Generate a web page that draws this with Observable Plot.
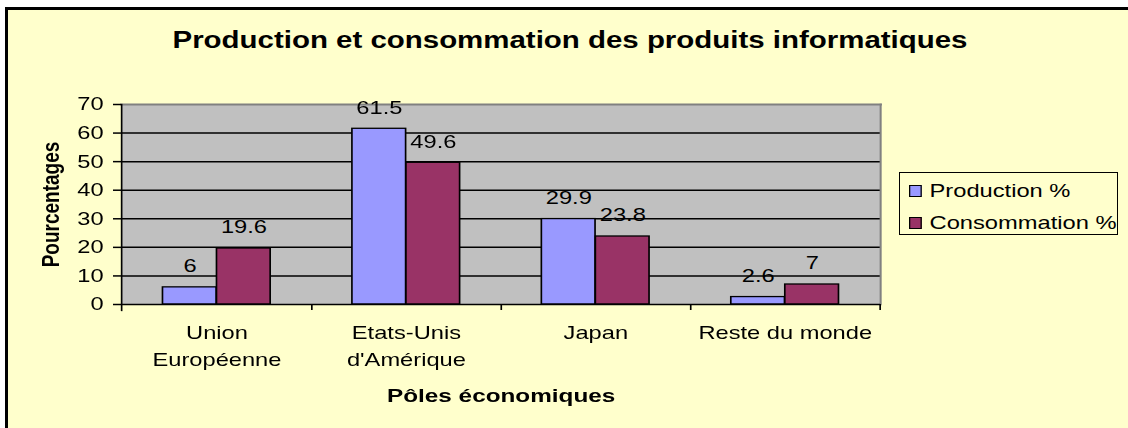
<!DOCTYPE html>
<html><head><meta charset="utf-8">
<script src="https://cdn.jsdelivr.net/npm/d3@7"></script>
<script src="https://cdn.jsdelivr.net/npm/@observablehq/plot@0.6"></script>
<style>
body{margin:0;background:#fff;width:1128px;height:428px;overflow:hidden;position:relative;font-family:Arial,"Liberation Sans",sans-serif;color:#000}
#frame{position:absolute;left:5px;top:7px;width:1200px;height:500px;border-left:3px solid #000;border-top:3px solid #000;background:#FFFFCC}
#title{position:absolute;top:26px;text-align:center;font-weight:bold;font-size:23px;line-height:28px;white-space:nowrap;transform-origin:0 0}
#chart{position:absolute;left:0;top:0;transform-origin:0 0}
#legend{position:absolute;left:899px;top:172px;width:217px;height:61px;border:1.5px solid #000;background:#FFFFCC;font-size:18.5px}
.item{position:absolute;left:9px;height:20px;line-height:20px;white-space:nowrap;transform-origin:0 50%}
.sw{display:inline-block;height:10px;border:1.3px solid #000;vertical-align:middle;position:relative;top:-1px}
</style></head>
<body>
<div id="frame"></div>
<div id="title"></div>
<div id="chart"></div>
<div id="legend"></div>
<script>
const titleText = "Production et consommation des produits informatiques";
const categories = ["Union Européenne", "Etats-Unis d'Amérique", "Japan", "Reste du monde"];
const tickLabels = ["Union\nEuropéenne", "Etats-Unis\nd'Amérique", "Japan", "Reste du monde"];
const series = ["Production %", "Consommation %"];
const production = [6, 61.5, 29.9, 2.6];
const consommation = [19.6, 49.6, 23.8, 7];
const yTicks = [0, 10, 20, 30, 40, 50, 60, 70];
const colors = ["#9999FF", "#993366"];
const xLabel = "Pôles économiques";
const yLabel = "Pourcentages";

// the reference is drawn horizontally stretched; draw narrow, then stretch
const S = 1.28;
const W = 1128, H = 428, mL = 121, mR = 248, mT = 104, mB = 124;
const w = W / S;
const bw = (W - mL - mR) / S / categories.length;
const barW = 54 / S;

const title = document.getElementById("title");
title.textContent = titleText;
title.style.width = (W / S) + "px";
title.style.left = "6px";
title.style.transform = `scaleX(${S})`;

const prodRows = categories.map((c, i) => ({c, s: series[0], v: production[i]}));
const consRows = categories.map((c, i) => ({c, s: series[1], v: consommation[i]}));

const chart = Plot.plot({
  width: w, height: H,
  marginLeft: mL / S, marginRight: mR / S, marginTop: mT, marginBottom: mB,
  style: {background: "transparent", fontFamily: "Arial, 'Liberation Sans', sans-serif", color: "#000", maxWidth: "none"},
  x: {domain: categories, padding: 0, axis: null},
  y: {domain: [0, 70], axis: null},
  color: {domain: series, range: colors},
  marks: [
    Plot.frame({fill: "#C0C0C0", stroke: "none"}),
    Plot.gridY(yTicks.filter(t => t > 0 && t < 70), {stroke: "#000", strokeOpacity: 1, strokeWidth: 1.5}),
    Plot.frame({anchor: "top", stroke: "#808080", strokeWidth: 2}),
    Plot.frame({anchor: "right", stroke: "#808080", strokeWidth: 1.6}),
    Plot.barY(prodRows, {x: "c", y: "v", fill: "s", stroke: "#000", strokeWidth: 1.3, insetLeft: bw / 2 - barW, insetRight: bw / 2}),
    Plot.barY(consRows, {x: "c", y: "v", fill: "s", stroke: "#000", strokeWidth: 1.3, insetLeft: bw / 2, insetRight: bw / 2 - barW}),
    Plot.text(prodRows, {x: "c", y: "v", text: d => String(d.v), dx: -barW / 2, dy: -21, fontSize: 18.5}),
    Plot.text(consRows, {x: "c", y: "v", text: d => String(d.v), dx: barW / 2, dy: -21, fontSize: 18.5}),
    Plot.ruleY([0], {stroke: "#000", strokeWidth: 1.5}),
    Plot.frame({anchor: "left", stroke: "#000", strokeWidth: 1.3, insetBottom: -6}),
    Plot.ruleX(categories, {x: d => d, dx: bw / 2, insetTop: H - mT - mB, insetBottom: -6, stroke: "#000", strokeWidth: 1.3}),
    Plot.axisY(yTicks, {tickSize: 8 / S, tickPadding: 10 / S, fontSize: 18.5, label: null, strokeWidth: 1.5}),
    Plot.axisX({tickSize: 0, tickPadding: 15, fontSize: 18.5, lineHeight: 1.48, label: null,
      tickFormat: d => tickLabels[categories.indexOf(d)]}),
    Plot.text([xLabel], {frameAnchor: "bottom", lineAnchor: "middle", textAnchor: "middle", dy: 91, fontWeight: "bold", fontSize: 19}),
    Plot.text([yLabel], {frameAnchor: "left", lineAnchor: "middle", textAnchor: "middle", rotate: -90, dx: -70 / S, fontWeight: "bold", fontSize: 19})
  ]
});
const holder = document.getElementById("chart");
holder.appendChild(chart);
holder.style.transform = `scaleX(${S})`;

const legend = document.getElementById("legend");
series.forEach((s, i) => {
  const it = document.createElement("div");
  it.className = "item";
  it.style.top = (8 + i * 32) + "px";
  it.style.transform = `scaleX(${S})`;
  const sw = document.createElement("span");
  sw.className = "sw";
  sw.style.width = (10 / S) + "px";
  sw.style.marginRight = (8 / S) + "px";
  sw.style.background = colors[i];
  it.appendChild(sw);
  it.appendChild(document.createTextNode(s));
  legend.appendChild(it);
});
</script>
</body></html>
